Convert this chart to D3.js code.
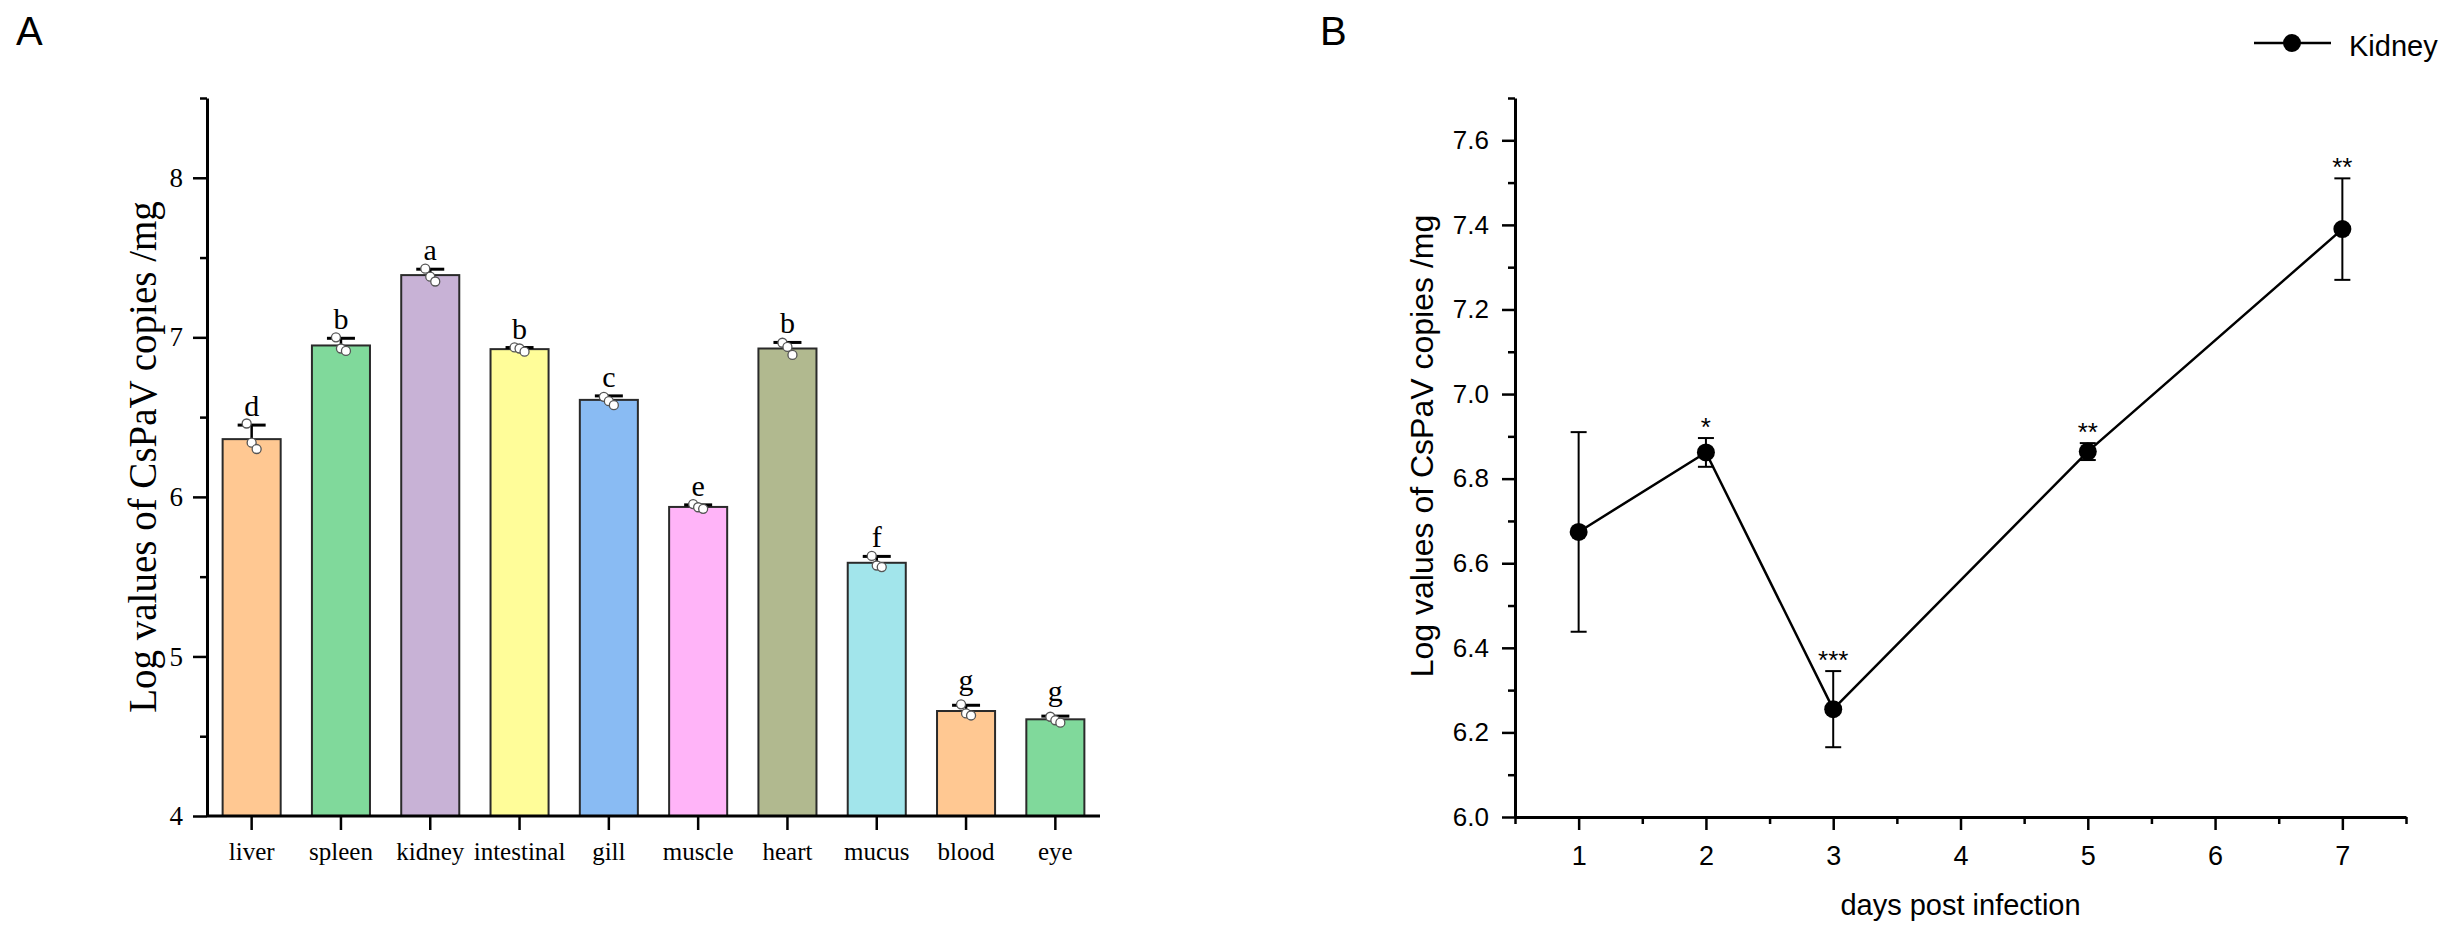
<!DOCTYPE html>
<html>
<head>
<meta charset="utf-8">
<script src="https://cdn.jsdelivr.net/npm/d3@7"></script>
<style>
  body { margin: 0; background: #fff; }
  .serif { font-family: "Liberation Serif", "Times New Roman", serif; }
  .sans { font-family: "Liberation Sans", Arial, sans-serif; }
</style>
</head>
<body>
<div id="chart"></div>
<script>
// panel A: tissue distribution
var tissues = ["liver", "spleen", "kidney", "intestinal", "gill", "muscle", "heart", "mucus", "blood", "eye"];
var tissueMeans = [6.362, 6.949, 7.390, 6.926, 6.608, 5.937, 6.930, 5.587, 4.658, 4.606];
var tissueErr = [0.088, 0.045, 0.037, 0.010, 0.025, 0.013, 0.038, 0.040, 0.036, 0.020];
var tissueReps = [
    [6.46, 6.34, 6.30],
    [7.00, 6.93, 6.915],
    [7.43, 7.38, 7.35],
    [6.937, 6.93, 6.91],
    [6.627, 6.60, 6.575],
    [5.955, 5.935, 5.925],
    [6.966, 6.94, 6.89],
    [5.63, 5.57, 5.56],
    [4.70, 4.643, 4.63],
    [4.622, 4.60, 4.585]
];
var tissueLetters = ["d", "b", "a", "b", "c", "e", "b", "f", "g", "g"];
var tissueColors = ["#ffc892", "#80d99b", "#c8b2d6", "#fffd99", "#89bbf3", "#ffb4f8", "#b1b98f", "#a2e5eb", "#ffc892", "#80d99b"];
var yTicksA = [4, 5, 6, 7, 8];

// panel B: kidney time course
var days = [1, 2, 3, 5, 7];
var kidneyMeans = [6.674, 6.862, 6.255, 6.864, 7.390];
var kidneyErr = [0.236, 0.034, 0.090, 0.020, 0.120];
var kidneySig = ["", "*", "***", "**", "**"];
var xTicksB = [1, 2, 3, 4, 5, 6, 7];
var yTicksB = [6.0, 6.2, 6.4, 6.6, 6.8, 7.0, 7.2, 7.4, 7.6];

function init() {
    var W = 2457, H = 937;
    var svg = d3.select("#chart").append("svg")
        .attr("width", W)
        .attr("height", H);
    svg.append("rect").attr("width", W).attr("height", H).attr("fill", "#fff");

    panelA(svg);
    panelB(svg);
}

function styleAxis(g, cls, size) {
    g.selectAll("path.domain").attr("stroke", "#000").attr("stroke-width", 3);
    g.selectAll(".tick line").attr("stroke", "#000").attr("stroke-width", 2.5);
    g.selectAll(".tick text")
        .attr("class", cls)
        .attr("fill", "#000")
        .style("font-size", size + "px");
    g.attr("font-family", null).attr("font-size", null);
}

function panelA(svg) {
    var left = 207, right = 1100, top = 98, bottom = 816;

    var x = d3.scaleBand()
        .domain(tissues)
        .range([left, right])
        .paddingInner(0.35)
        .paddingOuter(0.175);

    var y = d3.scaleLinear()
        .domain([4, 8.5])
        .range([bottom, top]);

    svg.append("text")
        .attr("class", "sans")
        .attr("x", 16)
        .attr("y", 45)
        .style("font-size", "40px")
        .text("A");

    // minor ticks every 0.5
    var minorA = d3.range(4.5, 8.51, 1);
    svg.append("g")
        .attr("transform", "translate(" + left + ",0)")
        .call(d3.axisLeft(y).tickValues(minorA).tickSize(7).tickSizeOuter(0).tickFormat(""))
        .call(function(g) { styleAxis(g, "serif", 26); g.select("path.domain").remove(); });

    var ya = svg.append("g")
        .attr("transform", "translate(" + left + ",0)")
        .call(d3.axisLeft(y).tickValues(yTicksA).tickSize(14).tickPadding(10).tickSizeOuter(0).tickFormat(d3.format("d")));
    styleAxis(ya, "serif", 27);

    // bars
    svg.selectAll("rect.bar")
        .data(tissues)
        .enter()
        .append("rect")
        .attr("class", "bar")
        .attr("x", function(d) { return x(d); })
        .attr("y", function(d, i) { return y(tissueMeans[i]); })
        .attr("width", x.bandwidth())
        .attr("height", function(d, i) { return y(4) - y(tissueMeans[i]); })
        .attr("fill", function(d, i) { return tissueColors[i]; })
        .attr("stroke", "#2a2a2a")
        .attr("stroke-width", 2);

    var xa = svg.append("g")
        .attr("transform", "translate(0," + bottom + ")")
        .call(d3.axisBottom(x).tickSize(14).tickPadding(12).tickSizeOuter(0));
    xa.select("path.domain").attr("d", "M" + left + ",0H" + right);
    styleAxis(xa, "serif", 25);

    // error bars (upper half only)
    var cx = function(i) { return x(tissues[i]) + x.bandwidth() / 2; };
    var eb = svg.append("g");
    tissues.forEach(function(t, i) {
        var yTop = y(tissueMeans[i] + tissueErr[i]);
        eb.append("line")
            .attr("x1", cx(i)).attr("x2", cx(i))
            .attr("y1", y(tissueMeans[i])).attr("y2", yTop)
            .attr("stroke", "#000").attr("stroke-width", 2.5);
        eb.append("line")
            .attr("x1", cx(i) - 14).attr("x2", cx(i) + 14)
            .attr("y1", yTop).attr("y2", yTop)
            .attr("stroke", "#000").attr("stroke-width", 3);
    });

    // replicate dots
    tissues.forEach(function(t, i) {
        svg.selectAll(null)
            .data(tissueReps[i])
            .enter()
            .append("circle")
            .attr("cx", function(d, j) { return cx(i) + (j - 1) * 5; })
            .attr("cy", function(d) { return y(d); })
            .attr("r", 4.5)
            .attr("fill", "#fff")
            .attr("stroke", "#555")
            .attr("stroke-width", 1.3);
    });

    // significance letters
    svg.selectAll("text.letter")
        .data(tissueLetters)
        .enter()
        .append("text")
        .attr("class", "serif letter")
        .attr("x", function(d, i) { return cx(i); })
        .attr("y", function(d, i) {
            var yy = y(tissueMeans[i] + tissueErr[i]) - 9;
            return d === "g" ? yy - 6 : yy;
        })
        .attr("text-anchor", "middle")
        .style("font-size", "30px")
        .text(function(d) { return d; });

    svg.append("text")
        .attr("class", "serif")
        .attr("transform", "translate(156," + ((top + bottom) / 2) + ") rotate(-90)")
        .attr("text-anchor", "middle")
        .style("font-size", "39px")
        .text("Log values of CsPaV copies /mg");
}

function panelB(svg) {
    var left = 1515, right = 2406, top = 98, bottom = 817;

    var x = d3.scaleLinear()
        .domain([0.5, 7.5])
        .range([left, right]);

    var y = d3.scaleLinear()
        .domain([6.0, 7.7])
        .range([bottom, top]);

    svg.append("text")
        .attr("class", "sans")
        .attr("x", 1320)
        .attr("y", 45)
        .style("font-size", "40px")
        .text("B");

    // minor ticks
    svg.append("g")
        .attr("transform", "translate(" + left + ",0)")
        .call(d3.axisLeft(y).tickValues(d3.range(6.1, 7.71, 0.2)).tickSize(7).tickFormat(""))
        .call(function(g) { styleAxis(g, "sans", 26); g.select("path.domain").remove(); });
    svg.append("g")
        .attr("transform", "translate(0," + bottom + ")")
        .call(d3.axisBottom(x).tickValues(d3.range(0.5, 7.51, 1)).tickSize(7).tickFormat(""))
        .call(function(g) { styleAxis(g, "sans", 26); g.select("path.domain").remove(); });

    var ya = svg.append("g")
        .attr("transform", "translate(" + left + ",0)")
        .call(d3.axisLeft(y).tickValues(yTicksB).tickSize(13).tickPadding(13).tickSizeOuter(0).tickFormat(d3.format(".1f")));
    styleAxis(ya, "sans", 26);

    var xa = svg.append("g")
        .attr("transform", "translate(0," + bottom + ")")
        .call(d3.axisBottom(x).tickValues(xTicksB).tickSize(13).tickPadding(16).tickSizeOuter(0).tickFormat(d3.format("d")));
    styleAxis(xa, "sans", 27);

    // line
    var line = d3.line()
        .x(function(d, i) { return x(days[i]); })
        .y(function(d) { return y(d); });
    svg.append("path")
        .datum(kidneyMeans)
        .attr("d", line)
        .attr("fill", "none")
        .attr("stroke", "#000")
        .attr("stroke-width", 2.5);

    // error bars
    var eb = svg.append("g").attr("stroke", "#000").attr("stroke-width", 2);
    days.forEach(function(d, i) {
        var px = x(d);
        var y1 = y(kidneyMeans[i] - kidneyErr[i]);
        var y2 = y(kidneyMeans[i] + kidneyErr[i]);
        eb.append("line").attr("x1", px).attr("x2", px).attr("y1", y1).attr("y2", y2);
        eb.append("line").attr("x1", px - 8).attr("x2", px + 8).attr("y1", y1).attr("y2", y1);
        eb.append("line").attr("x1", px - 8).attr("x2", px + 8).attr("y1", y2).attr("y2", y2);
    });

    svg.selectAll("circle.pt")
        .data(kidneyMeans)
        .enter()
        .append("circle")
        .attr("class", "pt")
        .attr("cx", function(d, i) { return x(days[i]); })
        .attr("cy", function(d) { return y(d); })
        .attr("r", 9)
        .attr("fill", "#000");

    // stars
    svg.selectAll("text.sig")
        .data(kidneySig)
        .enter()
        .append("text")
        .attr("class", "sans sig")
        .attr("x", function(d, i) { return x(days[i]); })
        .attr("y", function(d, i) { return y(kidneyMeans[i] + kidneyErr[i]) - 2; })
        .attr("text-anchor", "middle")
        .style("font-size", "26px")
        .text(function(d) { return d; });

    // axis titles
    svg.append("text")
        .attr("class", "sans")
        .attr("x", (left + right) / 2)
        .attr("y", 915)
        .attr("text-anchor", "middle")
        .style("font-size", "29px")
        .text("days post infection");

    svg.append("text")
        .attr("class", "sans")
        .attr("transform", "translate(1433,446) rotate(-90)")
        .attr("text-anchor", "middle")
        .style("font-size", "32px")
        .text("Log values of CsPaV copies /mg");

    // legend
    var lg = svg.append("g");
    lg.append("line")
        .attr("x1", 2254).attr("x2", 2331)
        .attr("y1", 43).attr("y2", 43)
        .attr("stroke", "#000").attr("stroke-width", 2.5);
    lg.append("circle")
        .attr("cx", 2292).attr("cy", 43).attr("r", 9).attr("fill", "#000");
    lg.append("text")
        .attr("class", "sans")
        .attr("x", 2349)
        .attr("y", 56)
        .style("font-size", "29px")
        .text("Kidney");
}

window.onload = init;
</script>
</body>
</html>
